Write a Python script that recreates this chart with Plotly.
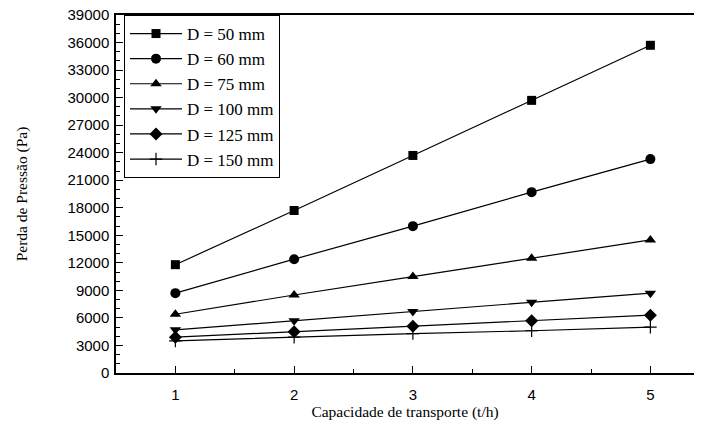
import plotly.graph_objects as go

capacidade = [1, 2, 3, 4, 5]
series_names = ["D = 50 mm", "D = 60 mm", "D = 75 mm", "D = 100 mm", "D = 125 mm", "D = 150 mm"]
d50 = [11800, 17700, 23700, 29700, 35700]
d60 = [8700, 12400, 16000, 19700, 23300]
d75 = [6400, 8500, 10500, 12500, 14500]
d100 = [4700, 5700, 6700, 7700, 8700]
d125 = [3900, 4500, 5100, 5700, 6300]
d150 = [3500, 3900, 4300, 4600, 5000]
y_ticks = [0, 3000, 6000, 9000, 12000, 15000, 18000, 21000, 24000, 27000, 30000, 33000, 36000, 39000]

all_series = [d50, d60, d75, d100, d125, d150]
symbols = ["square", "circle", "triangle-up", "triangle-down", "diamond", "cross-thin"]
sizes = [9, 10, 10, 10, 10, 9]

SERIF = "Liberation Serif"
SANS = "Liberation Sans"

fig = go.Figure()
for i, (name, vals) in enumerate(zip(series_names, all_series)):
    sym = symbols[i]
    marker = dict(symbol=sym, size=sizes[i], color="black")
    if sym == "cross-thin":
        marker["line"] = dict(color="black", width=1.2)
    else:
        marker["line"] = dict(width=0)
    fig.add_trace(go.Scatter(
        x=capacidade, y=vals, name=name, mode="lines+markers",
        line=dict(color="black", width=1.2), marker=marker,
        legendgroup=f"g{i}",
    ))

# page body has an 8px margin on every side: figure is sized so the page
# fits the 702x436 window without scrollbars
W, H = 686, 420
ml, mr, mt, mb = 108, 0, 7, 55
pw = W - ml - mr

fig.update_layout(
    width=W, height=H,
    margin=dict(l=ml, r=mr, t=mt, b=mb, autoexpand=False),
    paper_bgcolor="white", plot_bgcolor="white",
    font=dict(family=SANS, color="black"),
    showlegend=True,
    legend=dict(
        x=(116 - ml) / pw, y=1, xanchor="left", yanchor="top",
        bgcolor="white", bordercolor="black", borderwidth=1,
        font=dict(family=SERIF, size=17, color="black"),
        tracegroupgap=0, itemwidth=52,
    ),
    xaxis=dict(
        range=[0.5, 0.5 + pw / 118.75],
        automargin=False,
        tickmode="array", tickvals=capacidade, ticktext=[str(c) for c in capacidade],
        showgrid=False, zeroline=False,
        showline=True, linecolor="black", linewidth=1.5, mirror=True,
        ticks="inside", ticklen=7, tickwidth=1, tickcolor="black",
        ticklabelstandoff=7, ticklabeloverflow="allow",
        minor=dict(tickvals=[1.5, 2.5, 3.5, 4.5], ticks="inside", ticklen=4, tickcolor="black"),
        tickfont=dict(family=SANS, size=15),
        title=dict(text="Capacidade de transporte (t/h)",
                   font=dict(family=SERIF, size=15.5),
                   standoff=4),
    ),
    yaxis=dict(
        range=[0, 39000],
        automargin=False,
        tickmode="array", tickvals=y_ticks, ticktext=[str(t) for t in y_ticks],
        showgrid=False, zeroline=False,
        showline=True, linecolor="black", linewidth=1.5, mirror=False,
        ticks="inside", ticklen=7, tickwidth=1, tickcolor="black",
        ticklabelstandoff=2, ticklabeloverflow="allow",
        minor=dict(dtick=1000, tick0=0, ticks="inside", ticklen=4, tickcolor="black"),
        tickfont=dict(family=SANS, size=15),
        title=dict(text="Perda de Pressão (Pa)",
                   font=dict(family=SERIF, size=15.5),
                   standoff=36),
    ),
)

fig.write_html("out.html")
